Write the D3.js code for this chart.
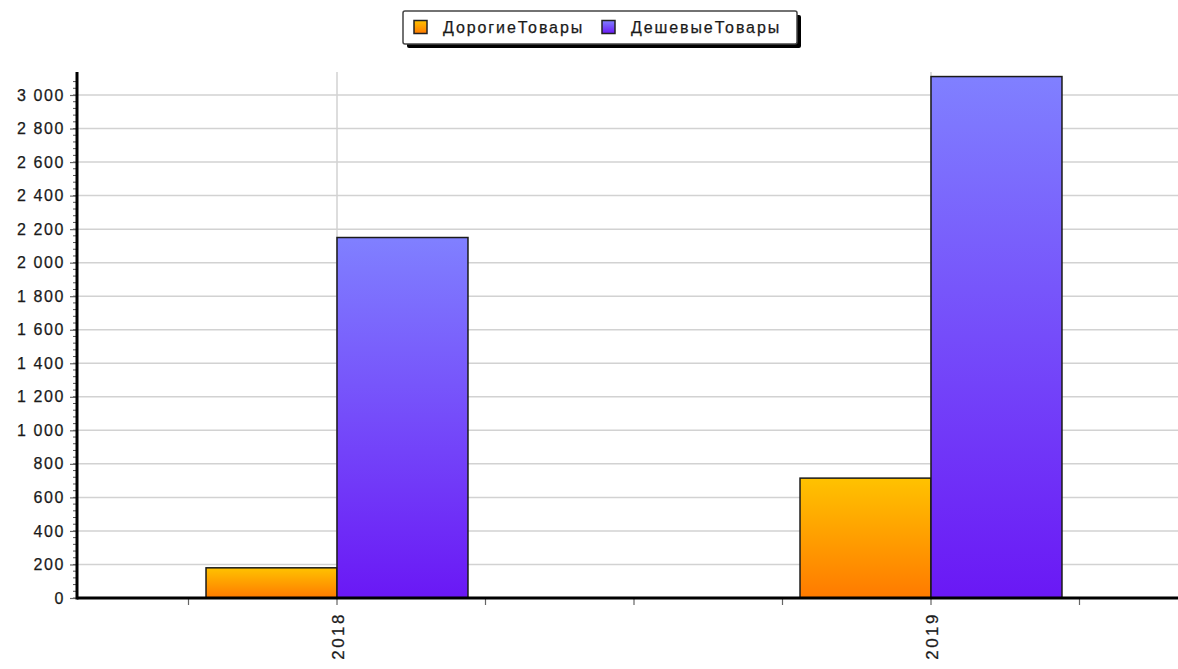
<!DOCTYPE html>
<html><head><meta charset="utf-8">
<script src="https://cdn.jsdelivr.net/npm/d3@7/dist/d3.min.js"></script>
<style>
html,body{margin:0;padding:0;background:#fff;}
svg{display:block;font-family:"Liberation Sans",Arial,sans-serif;}
</style></head>
<body>
<svg id="chart" width="1178" height="669"></svg>
<script>
const categories = ["2018", "2019"];
const seriesNames = ["ДорогиеТовары", "ДешевыеТовары"];
const expensive = [180, 715];
const cheap = [2150, 3110];
const yTicks = [0, 200, 400, 600, 800, 1000, 1200, 1400, 1600, 1800, 2000, 2200, 2400, 2600, 2800, 3000];

const svg = d3.select("#chart");
const plotLeft = 77, plotRight = 1178, plotTop = 72, plotBottom = 598;

const defs = svg.append("defs");
function grad(id, c1, c2) {
  const g = defs.append("linearGradient").attr("id", id).attr("x1", 0).attr("y1", 0).attr("x2", 0).attr("y2", 1);
  g.append("stop").attr("offset", "0%").attr("stop-color", c1);
  g.append("stop").attr("offset", "100%").attr("stop-color", c2);
}
grad("gOrange", "#FFC200", "#FF7A00");
grad("gPurple", "#8080FF", "#6A18F5");
const fills = ["url(#gOrange)", "url(#gPurple)"];

const y = d3.scaleLinear().domain([0, 3000]).range([plotBottom, 95]);
const x = d3.scaleBand().domain(categories).range([40, 1228]).paddingInner(0).paddingOuter(0);
const bw = x.bandwidth();
const barW = bw * 0.2205;

// horizontal gridlines
svg.append("g").selectAll("line").data(yTicks.filter(d => d > 0)).join("line")
  .attr("x1", plotLeft).attr("x2", plotRight).attr("y1", d => y(d)).attr("y2", d => y(d))
  .attr("stroke", "#d2d2d2").attr("stroke-width", 1.5);

// vertical gridlines at categories
svg.append("g").selectAll("line").data(categories).join("line")
  .attr("x1", d => x(d) + bw / 2).attr("x2", d => x(d) + bw / 2)
  .attr("y1", plotTop).attr("y2", plotBottom)
  .attr("stroke", "#d2d2d2").attr("stroke-width", 1.5);

// bars
const series = [expensive, cheap];
series.forEach((vals, si) => {
  svg.append("g").selectAll("rect").data(categories).join("rect")
    .attr("x", (d) => x(d) + bw / 2 + (si === 0 ? -barW : 0))
    .attr("y", (d, i) => y(vals[i]))
    .attr("width", barW)
    .attr("height", (d, i) => y(0) - y(vals[i]))
    .attr("fill", fills[si])
    .attr("stroke", "#1a1a1a").attr("stroke-width", 1.5);
});

// minor y ticks
const minor = d3.range(0, 3120, 40);
svg.append("g").selectAll("line").data(minor).join("line")
  .attr("x1", plotLeft - 4).attr("x2", plotLeft).attr("y1", d => y(d)).attr("y2", d => y(d))
  .attr("stroke", "#555").attr("stroke-width", 1);

// y axis with major ticks and labels
const fmt = d => d3.format(",")(d).replace(/,/g, " ");
const yAxis = svg.append("g").attr("transform", `translate(${plotLeft},0)`)
  .call(d3.axisLeft(y).tickValues(yTicks).tickSize(7).tickPadding(5).tickFormat(fmt));
yAxis.select(".domain").remove();
yAxis.selectAll(".tick line").attr("stroke", "#666").attr("stroke-width", 1.2);
yAxis.selectAll(".tick text").attr("font-size", 16).attr("fill", "#1a1a1a")
  .attr("letter-spacing", "1.6px").attr("stroke", "#1a1a1a").attr("stroke-width", 0.25)
  .attr("font-family", "'Liberation Sans', Arial, sans-serif");

// y axis line
svg.append("line").attr("x1", plotLeft).attr("x2", plotLeft).attr("y1", plotTop).attr("y2", plotBottom + 1.5)
  .attr("stroke", "#000").attr("stroke-width", 3);

// x axis ticks (quarter-band)
const xTicks = [];
categories.forEach(c => { for (let k = 0; k < 4; k++) xTicks.push(x(c) + bw * k / 4); });
xTicks.push(x(categories[categories.length - 1]) + bw);
svg.append("g").selectAll("line").data(xTicks.filter(v => v > plotLeft && v < plotRight)).join("line")
  .attr("x1", d => d).attr("x2", d => d).attr("y1", plotBottom).attr("y2", plotBottom + 7)
  .attr("stroke", "#666").attr("stroke-width", 1.2);

// x axis line
svg.append("line").attr("x1", plotLeft).attr("x2", plotRight).attr("y1", plotBottom).attr("y2", plotBottom)
  .attr("stroke", "#000").attr("stroke-width", 3);

// x labels rotated
svg.append("g").selectAll("text").data(categories).join("text")
  .attr("transform", d => `translate(${x(d) + bw / 2 + 6.5},${612}) rotate(-90)`)
  .attr("text-anchor", "end").attr("font-size", 17).attr("letter-spacing", "2.5px")
  .attr("fill", "#1a1a1a").attr("stroke", "#1a1a1a").attr("stroke-width", 0.25).text(d => d);

// legend
const lg = svg.append("g");
lg.append("rect").attr("x", 407).attr("y", 15).attr("width", 394).attr("height", 33).attr("rx", 2)
  .attr("fill", "#000");
lg.append("rect").attr("x", 403).attr("y", 11).attr("width", 394).attr("height", 33).attr("rx", 2)
  .attr("fill", "#fff").attr("stroke", "#444").attr("stroke-width", 1.5);
const itemX = [414, 602];
seriesNames.forEach((name, i) => {
  lg.append("rect").attr("x", itemX[i]).attr("y", 20.5).attr("width", 13).attr("height", 13)
    .attr("fill", fills[i]).attr("stroke", "#222").attr("stroke-width", 1.5);
  lg.append("text").attr("x", itemX[i] + 29).attr("y", 33).attr("font-size", 16)
    .attr("letter-spacing", "1.9px").attr("fill", "#1a1a1a").attr("stroke", "#1a1a1a").attr("stroke-width", 0.25)
    .text(name);
});
</script>
</body></html>
